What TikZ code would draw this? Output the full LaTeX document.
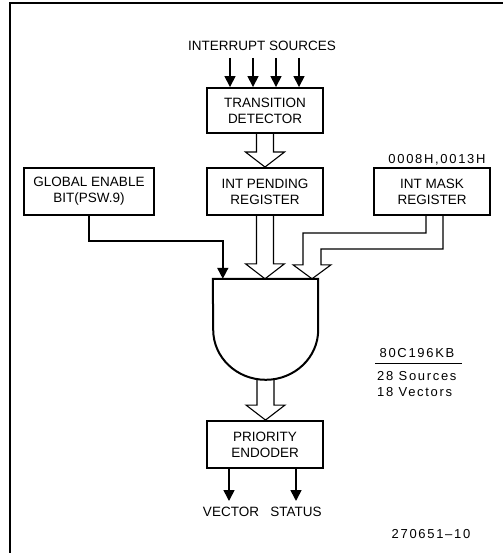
\documentclass[tikz,border=0pt]{standalone}
\usepackage{fontspec}
\setmainfont{Liberation Sans}
\newfontfamily\widefont[LetterSpace=13]{Liberation Sans}
\usetikzlibrary{arrows.meta,calc}
\newcommand\hollowdown[2]{\draw[hol] let \p1=(#1), \p2=(#2) in (\x1-8.5pt,\y1) -- (\x1-8.5pt,\y2+15pt) -- (\x1-19.5pt,\y2+15pt) -- (\x1,\y2) -- (\x1+19.5pt,\y2+15pt) -- (\x1+8.5pt,\y2+15pt) -- (\x1+8.5pt,\y1);}
\begin{document}
\begin{tikzpicture}[x=1pt,y=-1pt,
  every node/.style={font=\fontsize{13.5}{16}\selectfont},
  box/.style={draw,line width=1.9pt,minimum width=116pt,minimum height=47pt,inner sep=0pt,align=center},
  hol/.style={line width=1.1pt,line join=miter},
  arr/.style={line width=1.6pt,-{Triangle[length=11pt,width=11pt]}},
  lbl/.style={inner sep=0pt},
  wlbl/.style={inner sep=0pt,font=\widefont\fontsize{13}{16}\selectfont},
]
\useasboundingbox (0,0) rectangle (503,553);
% frame
\draw[line width=1.3pt] (10,553) -- (10,3) -- (503,3);
% nodes
\node[lbl] (src) at (262,46) {INTERRUPT SOURCES};
\node[box,minimum height=45pt] (tdet) at (265,110.5) {TRANSITION\\DETECTOR};
\node[box] (ipend) at (265,191.5) {INT PENDING\\REGISTER};
\node[box,minimum width=130pt] (glob) at (89,191.5) {GLOBAL ENABLE\\BIT(PSW.9)};
\node[box] (mask) at (432,191.5) {INT MASK\\REGISTER};
\node[wlbl] (masklbl) at (437,160) {0008H,0013H};
\node[minimum width=105pt,minimum height=101pt,inner sep=0pt] (gate) at (265.5,329.5) {};
\draw[line width=2pt,line join=miter] (gate.north west) -- (gate.north east) -- ++(0,51) arc[start angle=0,end angle=180,x radius=52.5,y radius=50] -- cycle;
\node[box] (penc) at (265,444.5) {PRIORITY\\ENDODER};
\node[lbl,anchor=north] (vec) at (231,507) {VECTOR};
\node[lbl,anchor=north] (stat) at (296,507) {STATUS};
\node[wlbl] (chip) at (417,353) {80C196KB};
\draw[line width=0.8pt] (375,363) -- (462,363);
\node[wlbl,anchor=west] (srcs) at (377,376) {28 Sources};
\node[wlbl,anchor=west] (vecs) at (377,392) {18 Vectors};
\node[wlbl] (fig) at (431,534) {270651–10};
% interrupt source arrows
\foreach \x [count=\i] in {230,253,276,299}{
  \coordinate (s\i) at (\x,58);
  \draw[arr] (s\i) -- (s\i |- tdet.north);
}
% hollow arrows
\hollowdown{tdet.south}{ipend.north}
\hollowdown{ipend.south}{gate.north}
\hollowdown{gate.south}{penc.north}
% global enable -> gate
\coordinate (gin) at ($(gate.north west)+(10,0)$);
\draw[arr] (glob.south) |- ($(gin)+(0,-38)$) -- (gin);
% mask bent hollow arrow
\coordinate (mtip) at ($(gate.north)+(46.5,0)$);
\draw[hol] let \p1=(mask.south), \p2=(mtip) in (\x1-6pt,\y1) |- (\x2-9pt,\y1-17pt) -- (\x2-9pt,\y2+14pt) -- (\x2-19pt,\y2+14pt) -- (\p2) -- (\x2+19pt,\y2+14pt) -- (\x2+9pt,\y2+14pt) |- (\x1+11pt,\y1-33pt) -- (\x1+11pt,\y1);
% outputs
\coordinate (vt) at (229,501);
\coordinate (st) at (296,501);
\draw[arr] (vt |- penc.south) -- (vt);
\draw[arr] (st |- penc.south) -- (st);
\end{tikzpicture}
\end{document}
